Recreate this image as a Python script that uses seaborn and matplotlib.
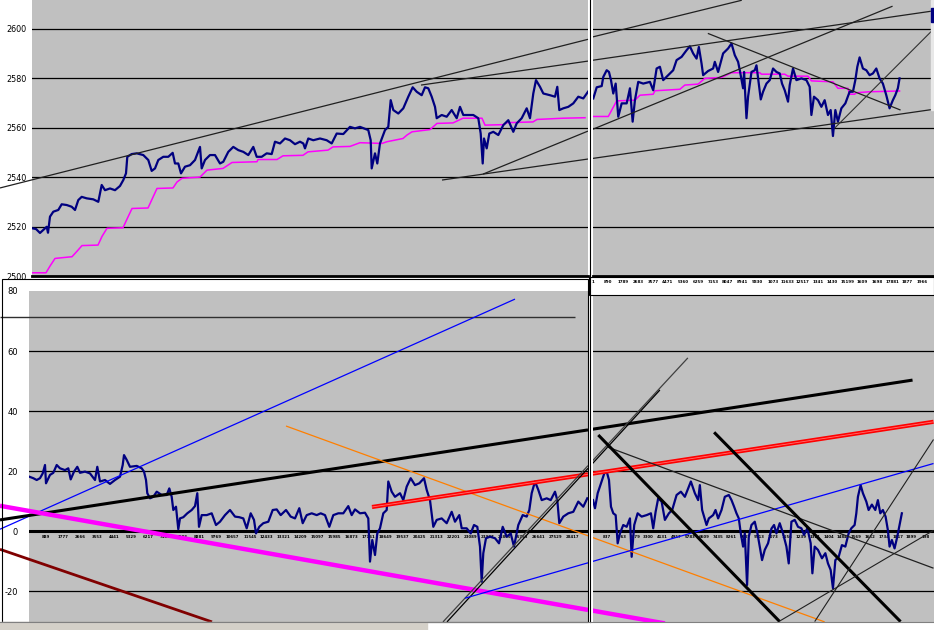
import matplotlib
matplotlib.use("Agg")
import matplotlib.pyplot as plt
import seaborn as sns
from matplotlib.patches import Rectangle
from matplotlib.lines import Line2D

plt.rcParams['font.family'] = ['DejaVu Sans']

# ---------------- data ----------------
# upper left window: price (bar index, value) and its stepped average
tl_x = [157, 366, 575, 732, 926, 994, 1098, 1271, 1532, 1710, 1972, 2233, 2406, 2578, 2756, 3018,
        3363, 3624, 3802, 3975, 4236, 4498, 4759, 4932, 5073, 5141, 5371, 5633, 5978, 6239, 6417,
        6590, 6762, 7024, 7285, 7515, 7636, 7808, 7950, 8159, 8420, 8682, 8943, 9032, 9205, 9466,
        9728, 9989, 10162, 10423, 10685, 10946, 11208, 11469, 11731, 11909, 12170, 12432, 12693,
        12866, 13127, 13389, 13650, 13912, 14173, 14346, 14435, 14607, 14869, 15219, 15569, 15831,
        16092, 16438, 16788, 17050, 17311, 17745, 17871, 17923, 18096, 18216, 18357, 18619, 18791,
        18917, 19053, 19314, 19576, 19837, 20067, 20277, 20538, 20711, 20883, 21061, 21234, 21323,
        21584, 21846, 22107, 22369, 22541, 22714, 22975, 23237, 23498, 23624, 23729, 23797, 23938,
        24074, 24283, 24545, 24806, 25068, 25329, 25507, 25768, 26030, 26202, 26375, 26516, 26725,
        26898, 27248, 27510, 27630, 27735, 27944, 28205, 28467, 28728, 28990, 29236]
tl_y = [2519.3, 2519.0, 2517.4, 2518.5, 2519.9, 2517.5, 2524.0, 2526.0, 2526.7, 2529.0, 2528.7,
        2528.0, 2526.7, 2530.7, 2532.0, 2531.4, 2531.0, 2530.0, 2536.8, 2534.7, 2535.4, 2534.7,
        2536.4, 2538.8, 2541.5, 2548.2, 2549.3, 2549.6, 2548.9, 2546.9, 2542.5, 2543.5, 2546.9,
        2548.2, 2548.2, 2549.8, 2545.5, 2545.5, 2541.5, 2544.2, 2544.8, 2546.9, 2552.2, 2543.5,
        2546.9, 2548.9, 2548.9, 2545.5, 2546.2, 2550.2, 2552.2, 2550.9, 2550.2, 2548.9, 2552.2,
        2548.2, 2548.2, 2549.6, 2549.3, 2554.3, 2553.6, 2555.6, 2554.9, 2553.3, 2554.3, 2553.6,
        2551.6, 2555.6, 2554.9, 2555.6, 2554.9, 2553.6, 2557.6, 2557.4, 2560.3, 2559.7, 2560.3,
        2559.0, 2554.9, 2543.5, 2549.6, 2545.5, 2553.6, 2559.0, 2560.3, 2571.1, 2567.1, 2565.7,
        2567.8, 2572.5, 2576.3, 2574.5, 2573.1, 2576.3, 2575.9, 2572.5, 2568.4, 2563.8, 2565.1,
        2564.4, 2567.1, 2563.8, 2568.4, 2565.1, 2565.1, 2565.1, 2563.8, 2557.6, 2545.5, 2555.6,
        2551.6, 2557.6, 2558.3, 2557.0, 2561.0, 2563.0, 2558.3, 2561.7, 2563.8, 2567.8, 2563.8,
        2573.8, 2579.2, 2576.5, 2573.8, 2573.1, 2572.5, 2576.5, 2567.1, 2567.8, 2568.4, 2569.8,
        2572.5, 2571.8, 2574.5]
tl_avg_x = [157, 889, 1098, 1360, 2249, 2510, 2772, 3609, 3818, 4079, 4916, 5125, 5387, 6224, 6433,
            6694, 7531, 7740, 8002, 8943, 9309, 10146, 10617, 11924, 11977, 12970, 13284, 14330,
            14592, 15638, 15899, 16788, 17311, 18462, 18723, 19560, 19769, 20031, 20972, 21338,
            22175, 22698, 23692, 23849, 24790, 24999, 26359, 26568, 27928, 29079]
tl_avg_y = [2501.3, 2501.3, 2504.0, 2507.1, 2507.8, 2510.0, 2512.3, 2512.5, 2516.0, 2519.3, 2519.5,
            2523.0, 2527.3, 2527.5, 2531.0, 2535.4, 2535.6, 2538.0, 2539.5, 2540.0, 2542.8, 2543.5,
            2545.9, 2546.2, 2547.1, 2547.1, 2548.6, 2548.8, 2550.2, 2550.9, 2552.2, 2552.4, 2553.9,
            2553.6, 2554.3, 2555.6, 2557.0, 2558.3, 2559.2, 2561.7, 2561.9, 2563.8, 2563.8, 2561.0,
            2561.2, 2562.0, 2562.3, 2563.3, 2563.8, 2564.0]

# upper right window
tr_x = [18, 221, 519, 614, 817, 954, 1073, 1210, 1353, 1508, 1711, 2009, 2205, 2366, 2503, 2700,
        2998, 3397, 3594, 3797, 3993, 4190, 4488, 4786, 4989, 5287, 5585, 5781, 5978, 6181, 6318,
        6479, 6574, 6872, 7170, 7271, 7468, 7766, 8064, 8267, 8463, 8660, 8761, 8958, 9017, 9160,
        9256, 9459, 9655, 9757, 9894, 10013, 10150, 10353, 10549, 10746, 10949, 11145, 11282,
        11443, 11640, 11741, 11938, 12141, 12439, 12737, 12933, 13035, 13189, 13428, 13631, 13827,
        14024, 14185, 14322, 14465, 14620, 14823, 15061, 15317, 15514, 15657, 15776, 15913, 16110,
        16313, 16509, 16706, 16909, 17105, 17302, 17505, 17701, 17898, 18041, 18196, 18297]
tr_y = [2571.8, 2576.3, 2576.8, 2580.5, 2583.2, 2582.5, 2579.2, 2573.8, 2577.8, 2564.4, 2569.8,
        2569.8, 2575.9, 2562.4, 2571.1, 2578.5, 2577.8, 2578.5, 2575.1, 2583.9, 2584.6, 2579.2,
        2581.2, 2583.2, 2587.3, 2588.6, 2591.3, 2592.9, 2590.0, 2587.9, 2592.6, 2585.9, 2581.2,
        2582.9, 2583.9, 2586.6, 2582.5, 2590.0, 2592.0, 2594.0, 2589.3, 2586.6, 2583.2, 2575.9,
        2582.5, 2563.8, 2572.5, 2582.5, 2583.2, 2585.2, 2577.8, 2571.4, 2574.5, 2577.8, 2579.2,
        2583.9, 2582.5, 2581.9, 2577.8, 2575.1, 2570.5, 2577.2, 2583.9, 2579.2, 2579.9, 2579.2,
        2576.5, 2565.1, 2572.5, 2571.1, 2568.4, 2571.1, 2565.1, 2567.1, 2556.6, 2567.1, 2562.4,
        2567.8, 2569.8, 2574.5, 2574.5, 2579.2, 2584.6, 2588.4, 2583.9, 2583.2, 2581.2, 2581.9,
        2583.9, 2579.9, 2577.8, 2573.1, 2567.8, 2571.1, 2573.1, 2575.9, 2579.9]
tr_avg_x = [18, 912, 1413, 2503, 2801, 3594, 3695, 5185, 5483, 6276, 6675, 7671, 8267, 9953, 10055,
            11443, 11640, 12832, 13035, 14322, 14620, 15216, 15317, 15615, 15716, 16509, 18297]
tr_avg_y = [2564.5, 2564.5, 2570.8, 2571.1, 2573.1, 2573.5, 2574.9, 2575.5, 2577.2, 2577.6, 2579.9,
            2580.3, 2582.2, 2582.2, 2581.6, 2581.6, 2580.8, 2580.8, 2578.9, 2578.5, 2575.9, 2575.9,
            2573.5, 2573.5, 2574.1, 2574.5, 2574.8]

# lower left window: oscillator
bl_x = [16, 225, 403, 575, 717, 837, 889, 1098, 1271, 1449, 1621, 1883, 2055, 2181, 2354, 2526,
        2667, 2929, 3190, 3452, 3572, 3713, 3975, 4236, 4498, 4759, 4901, 4969, 5110, 5282, 5633,
        5894, 6015, 6119, 6187, 6328, 6501, 6679, 6940, 7202, 7338, 7463, 7547, 7688, 7808, 7897,
        8070, 8279, 8509, 8682, 8802, 8891, 9032, 9294, 9555, 9780, 9989, 10251, 10512, 10774,
        10999, 11208, 11386, 11595, 11768, 11872, 12045, 12254, 12516, 12746, 12955, 13164, 13441,
        13687, 13912, 14137, 14315, 14524, 14785, 15047, 15256, 15481, 15706, 15915, 16176, 16438,
        16699, 16877, 17050, 17311, 17573, 17745, 17834, 17954, 18096, 18216, 18357, 18530, 18708,
        18791, 18969, 19142, 19403, 19576, 19754, 19963, 20188, 20413, 20659, 20800, 20972, 21145,
        21323, 21584, 21846, 22107, 22280, 22505, 22630, 22892, 23101, 23274, 23447, 23587, 23676,
        23760, 23901, 24110, 24372, 24581, 24775, 24984, 25193, 25366, 25591, 25821, 26030, 26166,
        26291, 26464, 26637, 26815, 27076, 27285, 27510, 27630, 27735, 27944, 28205, 28467, 28728,
        28990, 29199]
bl_y = [18.1, 17.6, 17.0, 17.6, 19.2, 22.0, 15.9, 18.7, 19.4, 22.0, 20.9, 20.3, 20.9, 17.2, 19.8,
        21.4, 19.4, 19.8, 19.2, 17.0, 21.4, 16.5, 17.0, 15.7, 17.0, 18.1, 22.0, 25.3, 23.7, 21.4,
        21.7, 20.9, 19.8, 17.0, 12.6, 10.9, 11.4, 13.1, 12.0, 12.0, 14.2, 11.4, 7.0, 8.1, 0.6, 4.2,
        4.6, 5.9, 7.0, 8.3, 12.6, 1.4, 5.3, 5.3, 5.9, 2.0, 3.1, 5.3, 7.0, 4.8, 4.6, 4.2, 0.9, 5.9,
        3.7, -0.8, 1.4, 2.6, 3.1, 7.0, 7.2, 5.3, 7.0, 4.8, 4.2, 7.6, 2.6, 5.3, 5.9, 5.3, 5.9, 5.3,
        1.4, 5.3, 5.9, 5.9, 8.3, 5.3, 7.2, 5.9, 6.1, 4.2, -10.2, -3.0, -8.0, -0.8, 0.9, 5.9, 7.0,
        16.5, 13.1, 11.4, 12.6, 10.3, 14.8, 17.6, 15.3, 15.9, 17.6, 13.7, 10.3, 1.4, 3.7, 4.2, 2.6,
        6.4, 3.1, 5.3, 0.9, 0.9, -0.8, 2.0, 1.4, -5.2, -16.9, -7.4, -2.4, -1.9, -2.4, -4.1, 1.4,
        -1.9, -0.8, -5.2, 2.0, 5.3, 4.8, 7.0, 12.6, 16.5, 13.7, 10.3, 10.9, 10.3, 13.1, 10.3, 2.6,
        4.8, 5.9, 6.4, 9.8, 8.1, 10.9]

# lower right window
br_x = [0, 119, 280, 477, 673, 817, 954, 1073, 1210, 1353, 1472, 1609, 1806, 2009, 2205, 2307,
        2461, 2664, 2903, 3201, 3457, 3594, 3737, 3892, 4095, 4291, 4530, 4726, 4989, 5245, 5483,
        5680, 5841, 6079, 6276, 6377, 6514, 6777, 6914, 7170, 7313, 7468, 7671, 7867, 8106, 8267,
        8421, 8564, 8702, 8821, 8958, 9059, 9196, 9298, 9459, 9655, 9816, 9953, 10090, 10251, 10448,
        10651, 10806, 10949, 11145, 11342, 11545, 11682, 11843, 12039, 12236, 12439, 12594, 12796,
        12993, 13094, 13231, 13428, 13666, 13869, 14024, 14185, 14322, 14465, 14662, 14858, 15061,
        15258, 15418, 15615, 15716, 15812, 15973, 16110, 16313, 16450, 16646, 16849, 17004, 17147,
        17302, 17463, 17600, 17701, 17838, 17999, 18160, 18297, 18434]
br_y = [10.3, 7.6, 12.6, 15.9, 19.2, 19.8, 17.0, 8.1, 5.9, 5.3, -4.1, -0.8, 2.0, 1.4, 4.2, -8.6,
        2.0, 5.9, 4.8, 5.3, 5.9, 0.9, 6.4, 10.9, 9.8, 3.7, 5.9, 7.0, 12.0, 13.1, 11.4, 14.2, 16.5,
        12.6, 10.3, 15.3, 7.0, 2.0, 4.2, 5.3, 7.0, 4.2, 7.0, 11.4, 12.0, 10.3, 8.1, 5.9, 4.2, -0.8,
        -5.2, -0.8, -18.0, -1.9, 2.0, 3.1, -0.8, -5.2, -9.7, -6.3, -4.1, 0.8, 2.0, -0.8, 2.6, -0.8,
        -5.2, -10.8, 3.1, 3.7, 1.4, 0.9, -1.3, 0.9, -4.1, -14.1, -5.2, -6.3, -9.1, -7.4, -10.8,
        -13.0, -19.1, -9.7, -8.6, -4.7, -5.2, -0.8, 0.9, 2.0, 5.9, 11.4, 15.3, 12.6, 9.8, 7.0, 8.8,
        7.0, 10.3, 5.9, 7.0, 4.8, 0.3, -5.2, -3.0, -5.8, -1.9, 2.0, 5.9]

# hand-drawn trend lines: (x pair, y pair) in each window's own units
tl_lines = {
    "upper": ([-1517, 29236], [2535.6, 2595.7]),
    "mid": ([20502, 29236], [2577.2, 2586.9]),
    "steep": ([23744, 29236], [2541.2, 2558.6]),
    "low": ([21600, 29236], [2538.8, 2547.3]),
}
tr_lines = {
    "upper": ([-60, 8880], [2596.6, 2611.5]),
    "mid": ([-60, 20324], [2587.2, 2607.2]),
    "steep": ([-60, 17880], [2559.2, 2609.1]),
    "low": ([-60, 20324], [2547.5, 2567.4]),
    "down": ([6854, 18357], [2598.1, 2567.1]),
    "rebound": ([14423, 20324], [2559.8, 2599.8]),
}
bl_lines = {
    "level": ([-1517, 28556], [71.3, 71.3]),
    "blue": ([-1517, 25418], [0.6, 77.3]),
    "black": ([-1517, 29236], [3.7, 33.7]),
    "magenta": ([-1517, 29236], [8.4, -26.3]),
    "maroon": ([-1517, 9571], [-6.1, -30.3]),
    "orange": ([13441, 29236], [35.0, -1.6]),
    "red": ([17939, 29236], [8.0, 18.9]),
    "gray": ([21652, 29236], [-30.3, 21.8]),
    "thin": ([21861, 29236], [-30.3, 20.9]),
    "blue2": ([22803, 29236], [-22.4, -10.6]),
}
br_lines = {
    "black": ([-60, 19072], [33.9, 50.3]),
    "magenta": ([-60, 4291], [-26.5, -30.8]),
    "orange": ([-60, 13827], [-2.1, -30.3]),
    "red": ([-60, 20324], [19.1, 36.4]),
    "gray": ([-60, 5662], [23.2, 57.7]),
    "thin": ([-60, 3993], [22.3, 47.0]),
    "blue2": ([-60, 20324], [-10.2, 22.5]),
    "fall": ([817, 20324], [28.1, -12.4]),
    "fall1": ([316, 11145], [32.0, -30.2]),
    "fall2": ([7229, 18357], [32.9, -30.2]),
    "rise1": ([11145, 20324], [-30.0, 0.2]),
    "rise2": ([13231, 20324], [-30.2, 30.5]),
}

# axis labels
tl_yticks = [2500, 2520, 2540, 2560, 2580, 2600]
bl_yticks = [-20, 0, 20, 40, 60, 80]
tr_tick_pos = [1, 895, 1789, 2683, 3577, 4471, 5365, 6259, 7153, 8047, 8941, 9835, 10729, 11623,
               12517, 13411, 14305, 15199, 16093, 16987, 17881, 18775, 19669]
tr_tick_lab = ["1", "890", "1789", "2683", "3577", "4471", "5360", "6259", "7153", "8047", "8941",
               "9830", "1073", "11633", "12517", "1341", "1430", "15199", "1609", "1698", "17881",
               "1877", "1966"]
bl_tick_pos = [889, 1777, 2665, 3553, 4441, 5329, 6217, 7105, 7993, 8881, 9769, 10657, 11545,
               12433, 13321, 14209, 15097, 15985, 16873, 17761, 18649, 19537, 20425, 21313, 22201,
               23089, 23977, 24865, 25753, 26641, 27529, 28417]
bl_tick_lab = ["889", "1777", "2666", "3553", "4441", "5329", "6217", "7105", "7993", "8881",
               "9769", "10657", "11545", "12433", "13321", "14209", "15097", "15985", "16873",
               "17761", "18649", "19537", "20425", "21313", "22201", "23089", "23977", "24865",
               "25753", "26641", "27529", "28417"]
br_tick_pos = [837, 1663, 2489, 3315, 4141, 4967, 5793, 6619, 7445, 8271, 9097, 9923, 10749,
               11575, 12401, 13227, 14053, 14879, 15705, 16531, 17357, 18183, 19009, 19835]
br_tick_lab = ["837", "1663", "2479", "3300", "4131", "4957", "5783", "6609", "7435", "8261",
               "9087", "9913", "1073", "1156", "1239", "1321", "1404", "1484", "1569", "1652",
               "1734", "1817", "1899", "198"]

# ---------------- styles ----------------
NAVY = "#000080"
GRAY_BG = "#C0C0C0"
line_style = {
    "upper": dict(color="#202020", lw=0.9),
    "mid": dict(color="#202020", lw=0.9),
    "steep": dict(color="#202020", lw=0.9),
    "low": dict(color="#202020", lw=0.9),
    "down": dict(color="#202020", lw=0.9),
    "rebound": dict(color="#303030", lw=0.8),
    "level": dict(color="#303030", lw=1.0),
    "blue": dict(color="#0000FF", lw=0.9),
    "blue2": dict(color="#0000FF", lw=0.9),
    "black": dict(color="black", lw=2.2),
    "magenta": dict(color="#FF00FF", lw=3.2),
    "maroon": dict(color="#800000", lw=2.0),
    "orange": dict(color="#FF7F00", lw=0.9),
    "red": dict(color="#FF0000", lw=3.0),
    "gray": dict(color="#404040", lw=0.9),
    "thin": dict(color="black", lw=0.9),
    "fall": dict(color="#202020", lw=0.9),
    "fall1": dict(color="black", lw=2.2),
    "fall2": dict(color="black", lw=2.2),
    "rise1": dict(color="#202020", lw=0.8),
    "rise2": dict(color="#202020", lw=0.8),
}

W, H = 934, 630
fig = plt.figure(figsize=(W / 100, H / 100), dpi=100)
fig.patch.set_facecolor("white")


def panel(x0, y0, x1, y1):
    ax = fig.add_axes([x0 / W, 1 - y1 / H, (x1 - x0) / W, (y1 - y0) / H])
    ax.set_facecolor(GRAY_BG)
    for s in ax.spines.values():
        s.set_visible(False)
    ax.tick_params(length=0)
    return ax


def draw_lines(ax, lines, clip_left=False):
    for name, (xs, ys) in lines.items():
        st = line_style[name]
        ax.plot(xs, ys, color=st["color"], lw=st["lw"], zorder=4,
                clip_on=not (clip_left and xs[0] < 0), solid_capstyle="butt")
        if name == "red":
            ax.plot(xs, ys, color="#FF7070", lw=0.6, zorder=4, clip_on=True)


ax_tl = panel(32, 0, 588, 276)
ax_tr = panel(592.5, 0, 934, 276)
ax_bl = panel(29, 291, 588, 622)
ax_br = panel(592.5, 296, 934, 622)

# price windows
for ax, xs, ys, ax_, ay_, lines, xl in [
        (ax_tl, tl_x, tl_y, tl_avg_x, tl_avg_y, tl_lines, (157, 29236)),
        (ax_tr, tr_x, tr_y, tr_avg_x, tr_avg_y, tr_lines, (-30, 20353))]:
    ax.set_xlim(*xl)
    ax.set_ylim(2500, 2611.6)
    for g in tl_yticks[1:]:
        ax.axhline(g, color="black", lw=0.9, zorder=1)
    ax.spines["bottom"].set_visible(True)
    ax.spines["bottom"].set_linewidth(2)
    sns.lineplot(x=ax_, y=ay_, ax=ax, color="#FF00FF", lw=1.1, estimator=None, sort=False, zorder=2)
    sns.lineplot(x=xs, y=ys, ax=ax, color=NAVY, lw=1.6, estimator=None, sort=False, zorder=3)
    draw_lines(ax, lines, clip_left=(ax is ax_tl))
    ax.set_xlabel("")
    ax.set_ylabel("")

ax_tl.set_yticks(tl_yticks)
ax_tl.set_yticklabels([str(v) for v in tl_yticks], fontsize=5.8)
ax_tl.tick_params(axis="y", pad=4)
ax_tl.set_xticks([])
ax_tr.set_yticks([])
ax_tr.set_xticks(tr_tick_pos)
ax_tr.set_xticklabels(tr_tick_lab, fontsize=2.9, fontweight="bold")
ax_tr.tick_params(axis="x", pad=3)

# oscillator windows
for ax, xs, ys, lines, xl, yl, tpos, tlab in [
        (ax_bl, bl_x, bl_y, bl_lines, (0, 29236), (-30.33, 80), bl_tick_pos, bl_tick_lab),
        (ax_br, br_x, br_y, br_lines, (-30, 20353), (-30.33, 78.33), br_tick_pos, br_tick_lab)]:
    ax.set_xlim(*xl)
    ax.set_ylim(*yl)
    for g in [-20, 20, 40, 60]:
        ax.axhline(g, color="black", lw=0.9, zorder=1)
    ax.axhline(0, color="black", lw=2.2, zorder=1)
    sns.lineplot(x=xs, y=ys, ax=ax, color=NAVY, lw=1.6, estimator=None, sort=False, zorder=3)
    draw_lines(ax, lines, clip_left=(ax is ax_bl))
    for p, t in zip(tpos, tlab):
        ax.text(p, -2.1, t, fontsize=2.8, fontweight="bold", ha="center", va="center", zorder=2)
    ax.set_xticks([])
    ax.set_xlabel("")
    ax.set_ylabel("")

ax_bl.set_yticks(bl_yticks)
ax_bl.set_yticklabels([str(v) for v in bl_yticks], fontsize=6)
ax_bl.tick_params(axis="y", pad=8)
ax_br.set_yticks([])

# window frames
fig.patches.append(Rectangle((2 / W, 1 - 622 / H), 586 / W, 343 / H, fill=False, ec="black",
                             lw=0.8, transform=fig.transFigure))
fig.patches.append(Rectangle((589 / W, 1 - 295 / H), 345 / W, 18 / H, fill=False, ec="black",
                             lw=0.8, transform=fig.transFigure))
fig.lines.append(Line2D([589.5 / W, 589.5 / W], [1 - 622 / H, 1], color="black", lw=0.8,
                        transform=fig.transFigure))
fig.patches.append(Rectangle((0, 0), 427 / W, 8 / H, color="#D4D0C8", transform=fig.transFigure))
fig.lines.append(Line2D([0, 1], [8 / H, 8 / H], color="#808080", lw=0.8,
                        transform=fig.transFigure))
# edge of a neighbouring window at the top right
fig.patches.append(Rectangle((931 / W, 1 - 110 / H), 3 / W, 110 / H, color="#E8E8E8",
                             transform=fig.transFigure))
fig.patches.append(Rectangle((931 / W, 1 - 22 / H), 3 / W, 14 / H, color=NAVY,
                             transform=fig.transFigure))

fig.savefig("out.png", dpi=100)
